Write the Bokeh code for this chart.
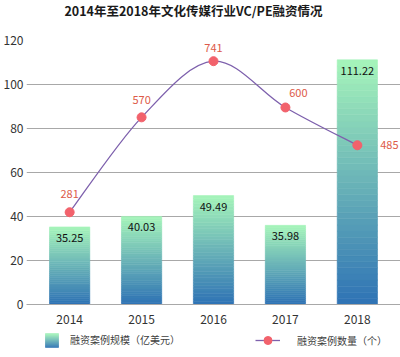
from bokeh.plotting import figure
from bokeh.layouts import column
from bokeh.models import (Range1d, FixedTicker, ColumnDataSource, Legend, LegendItem)
from bokeh.core.properties import value
from bokeh.embed import file_html
from bokeh.resources import INLINE

# ---- data ----
title_text = "2014年至2018年文化传媒行业VC/PE融资情况"
years = ["2014", "2015", "2016", "2017", "2018"]
scale_usd_100m = [35.25, 40.03, 49.49, 35.98, 111.22]   # 融资案例规模（亿美元）
deal_counts = [281, 570, 741, 600, 485]                 # 融资案例数量（个）
y_ticks = [0, 20, 40, 60, 80, 100, 120]

# ---- style ----
FONT = "Noto Sans CJK SC"
BAR_TOP = (166, 245, 186)
BAR_BOTTOM = (46, 114, 181)
LINE_COLOR = "#7E61AD"
MARKER_COLOR = "#F2626C"
COUNT_LABEL_COLOR = "#DD5A48"
GRID_COLOR = "#A8A8A8"
N_STRIPS = 40
BAR_HALF = 0.28
count_dx = [0, 0, 0, 13, 32]
count_dy = [-18, -17, -13, -14, 0]

xs = list(range(len(years)))
W, H_TITLE, H_MAIN, H_LEG = 400, 22, 309, 26
BORDER_L = 26

def mix(t):
    r = int(round(BAR_BOTTOM[0] + (BAR_TOP[0] - BAR_BOTTOM[0]) * t))
    g = int(round(BAR_BOTTOM[1] + (BAR_TOP[1] - BAR_BOTTOM[1]) * t))
    b = int(round(BAR_BOTTOM[2] + (BAR_TOP[2] - BAR_BOTTOM[2]) * t))
    return "#%02x%02x%02x" % (r, g, b)

def strip_fig(h):
    f = figure(width=W, height=h, output_backend="svg", toolbar_location=None,
               x_range=Range1d(BORDER_L, W), y_range=Range1d(0, h),
               x_axis_type=None, y_axis_type=None, min_border=0,
               min_border_left=BORDER_L)
    f.outline_line_color = None
    f.xgrid.grid_line_color = None
    f.ygrid.grid_line_color = None
    return f

# ---- title strip ----
tf = strip_fig(H_TITLE)
tf.text(x=[193], y=[H_TITLE - 10], text=[title_text], text_align="center",
        text_baseline="middle", text_font=value(FONT), text_font_size="12.5px",
        text_font_style="bold", text_color="#1a1a1a")

# ---- main chart ----
p = figure(width=W, height=H_MAIN, output_backend="svg", toolbar_location=None,
           x_range=Range1d(-0.6, 4.6), y_range=Range1d(0, 120),
           min_border_left=BORDER_L, min_border_right=0, min_border_top=18,
           min_border_bottom=27)
p.extra_y_ranges = {"count": Range1d(0, 804)}
p.outline_line_color = None
p.background_fill_color = "white"
p.border_fill_color = "white"

# gradient bars built from strips
sl, sr, sb, st, sc = [], [], [], [], []
for i, v in zip(xs, scale_usd_100m):
    for k in range(N_STRIPS):
        sl.append(i - BAR_HALF)
        sr.append(i + BAR_HALF)
        sb.append(v * k / N_STRIPS)
        st.append(v * (k + 1) / N_STRIPS)
        sc.append(mix((k + 0.5) / N_STRIPS))
strips = ColumnDataSource(dict(left=sl, right=sr, bottom=sb, top=st, color=sc))
p.quad(left="left", right="right", bottom="bottom", top="top",
       fill_color="color", line_color="color", line_width=0.6, source=strips)

bar_src = ColumnDataSource(dict(x=xs, y=scale_usd_100m,
                                t=["%.2f" % v for v in scale_usd_100m]))
p.text(x="x", y="y", text="t", source=bar_src, text_align="center",
       text_baseline="middle", y_offset=11, text_font=value(FONT),
       text_font_size="11px", text_color="#111111")

# smooth line (Catmull-Rom -> Bezier)
pts = list(zip(xs, deal_counts))
bx0, by0, bx1, by1, cx0, cy0, cx1, cy1 = [], [], [], [], [], [], [], []
n = len(pts)
for i in range(n - 1):
    p0 = pts[i - 1] if i > 0 else pts[i]
    p1 = pts[i]
    p2 = pts[i + 1]
    p3 = pts[i + 2] if i + 2 < n else pts[i + 1]
    bx0.append(p1[0]); by0.append(p1[1])
    bx1.append(p2[0]); by1.append(p2[1])
    cx0.append(p1[0] + (p2[0] - p0[0]) / 6.0)
    cy0.append(p1[1] + (p2[1] - p0[1]) / 6.0)
    cx1.append(p2[0] - (p3[0] - p1[0]) / 6.0)
    cy1.append(p2[1] - (p3[1] - p1[1]) / 6.0)
p.bezier(x0=bx0, y0=by0, x1=bx1, y1=by1, cx0=cx0, cy0=cy0, cx1=cx1, cy1=cy1,
         line_color=LINE_COLOR, line_width=1.3, y_range_name="count")
p.scatter(x=xs, y=deal_counts, size=9, fill_color=MARKER_COLOR,
          line_color=MARKER_COLOR, y_range_name="count")

cnt_src = ColumnDataSource(dict(x=xs, y=deal_counts, t=[str(c) for c in deal_counts],
                                dx=count_dx, dy=count_dy))
p.text(x="x", y="y", text="t", source=cnt_src, x_offset="dx", y_offset="dy",
       text_align="center", text_baseline="middle", text_font=value(FONT),
       text_font_size="11px", text_color=COUNT_LABEL_COLOR, y_range_name="count")

# axes
p.xaxis.ticker = FixedTicker(ticks=xs)
p.xaxis.major_label_overrides = {i: y for i, y in zip(xs, years)}
p.yaxis.ticker = FixedTicker(ticks=y_ticks)
for ax in (p.xaxis[0], p.yaxis[0]):
    ax.major_tick_line_color = None
    ax.minor_tick_line_color = None
    ax.major_tick_out = 0
    ax.major_tick_in = 0
    ax.minor_tick_out = 0
    ax.major_label_text_font = FONT
    ax.major_label_text_font_size = "12px"
    ax.major_label_text_color = "#333333"
p.yaxis.axis_line_color = None
p.yaxis.major_label_standoff = 3
p.xaxis.axis_line_color = GRID_COLOR
p.xaxis.major_label_standoff = 10
p.xgrid.grid_line_color = None
p.ygrid.grid_line_color = GRID_COLOR
p.ygrid.grid_line_width = 1

# ---- legend strip (1 unit = 1 pixel) ----
lf = strip_fig(H_LEG)

ICON_X, ICON_Y, ICON_S = 45, 10, 14
N_ICON = 14
il, ir, ib, it, ic = [], [], [], [], []
for k in range(N_ICON):
    il.append(ICON_X); ir.append(ICON_X + 13)
    ib.append(ICON_Y + ICON_S * k / N_ICON)
    it.append(ICON_Y + ICON_S * (k + 1) / N_ICON)
    ic.append(mix((k + 0.5) / N_ICON))
lf.quad(left=il, right=ir, bottom=ib, top=it, fill_color=ic, line_color=ic,
        line_width=0.6)

# renderers only used for legend glyphs (data lies outside the visible ranges)
leg_bar = lf.quad(left=[-60], right=[-50], bottom=[-60], top=[-50],
                  fill_alpha=0, line_alpha=0)
leg_line = lf.line(x=[-60, -50], y=[-60, -60], line_color=LINE_COLOR, line_width=1.3)
leg_pt = lf.scatter(x=[-60], y=[-60], size=9, fill_color=MARKER_COLOR,
                    line_color=MARKER_COLOR)

def make_legend(items, gw, gh, standoff, loc):
    return Legend(items=items, location=loc, orientation="horizontal",
                  glyph_width=gw, glyph_height=gh, label_standoff=standoff,
                  label_text_font=FONT, label_text_font_size="10px",
                  label_text_color="#404040", border_line_color=None,
                  background_fill_alpha=0, padding=0, margin=0,
                  label_height=14)

lg1 = make_legend([LegendItem(label="融资案例规模（亿美元）", renderers=[leg_bar])],
                  13, ICON_S, 12, (ICON_X - BORDER_L, ICON_Y))
lg2 = make_legend([LegendItem(label="融资案例数量（个）", renderers=[leg_line, leg_pt])],
                  25, 20, 17, (255 - BORDER_L, 7))
lf.add_layout(lg1, "center")
lf.add_layout(lg2, "center")

layout = column(tf, p, lf, spacing=0)
open("out.html", "w").write(file_html(layout, INLINE))
